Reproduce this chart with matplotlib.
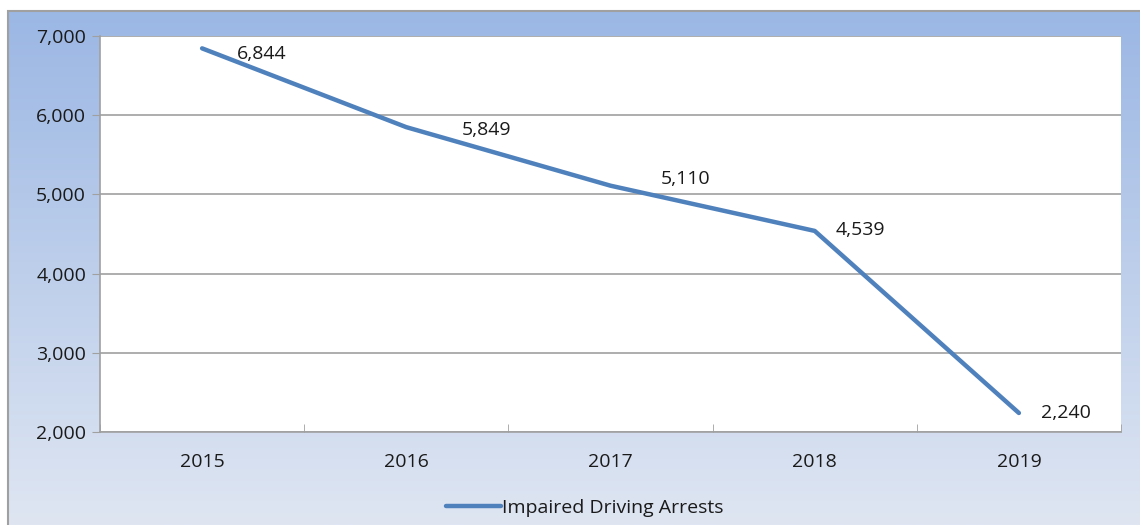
import matplotlib

matplotlib.use("Agg")
import matplotlib.pyplot as plt
import numpy as np
from matplotlib.colors import LinearSegmentedColormap
from matplotlib.patches import Rectangle

years = ["2015", "2016", "2017", "2018", "2019"]
arrests = [6844, 5849, 5110, 4539, 2240]
series_name = "Impaired Driving Arrests"
y_ticks = [2000, 3000, 4000, 5000, 6000, 7000]

# label offsets in points (dx, dy)
label_offsets = [(25, -4), (40, -2), (36, 5), (15, 1), (16, 0)]

plt.rcParams["font.family"] = ["Open Sans", "DejaVu Sans"]
W, H = 1140, 525
fig = plt.figure(figsize=(W / 100, H / 100), dpi=100)
fig.patch.set_facecolor("white")

# gradient background panel with grey frame (runs off the right and bottom edges)
bg = fig.add_axes([8 / W, 0, 1 - 8 / W, 1 - 11 / H])
bg.set_axis_off()
grad = LinearSegmentedColormap.from_list("bg", ["#dfe6f2", "#9bb7e4"])
bg.imshow(np.linspace(0, 1, 256).reshape(-1, 1), cmap=grad, aspect="auto",
          origin="lower", extent=[0, 1, 0, 1])
bg.add_patch(Rectangle((0, -0.1), 1.2, 1.1, fill=False, edgecolor="#a0a0a0",
                       linewidth=1.5, transform=bg.transAxes, clip_on=False))
bg.set_xlim(0, 1)
bg.set_ylim(0, 1)

left, right, top, bottom = 100, 1121, 36, 432
ax = fig.add_axes([left / W, 1 - bottom / H, (right - left) / W, (bottom - top) / H])
ax.set_facecolor("white")

x = np.arange(len(years))
line, = ax.plot(x, arrests, color="#4f81bd", linewidth=3.2, solid_capstyle="round",
                label=series_name, zorder=3)
for xi, val, off in zip(x, arrests, label_offsets):
    ax.annotate(f"{val:,}", (xi, val), xytext=off, textcoords="offset points",
                ha="left", va="center", fontsize=14, color="#1a1a1a")

ax.set_xlim(-0.5, len(years) - 0.5)
ax.set_ylim(2000, 7000)
ax.set_yticks(y_ticks)
ax.set_yticklabels([f"{v:,}" for v in y_ticks])
ax.set_xticks(x)
ax.set_xticklabels(years)
ax.set_xticks(np.arange(len(years) + 1) - 0.5, minor=True)
ax.tick_params(axis="x", which="major", length=0, pad=15, labelsize=14, labelcolor="#1a1a1a")
ax.tick_params(axis="x", which="minor", length=6, direction="in", color="#a0a0a0")
ax.tick_params(axis="y", length=6, direction="out", color="#a0a0a0", pad=4,
               labelsize=14, labelcolor="#1a1a1a")
ax.grid(axis="y", color="#a0a0a0", linewidth=1.2)
ax.set_axisbelow(True)
for side in ["top", "right"]:
    ax.spines[side].set_visible(False)
for side in ["left", "bottom"]:
    ax.spines[side].set_color("#a0a0a0")
    ax.spines[side].set_linewidth(1.2)

fig.legend(handles=[line], loc="center", bbox_to_anchor=(585 / W, 1 - 508 / H),
           frameon=False, fontsize=14, handlelength=2.8, handletextpad=0.1,
           labelcolor="#1a1a1a")

fig.savefig("out.png", dpi=100)
